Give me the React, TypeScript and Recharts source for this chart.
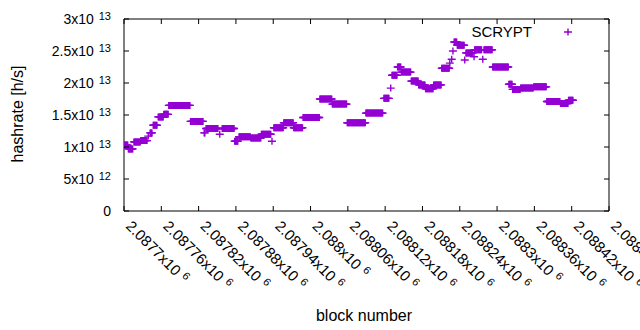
import React from 'react';
import { ScatterChart, Scatter, XAxis, YAxis, ReferenceArea } from 'recharts';

const BASE_BLOCK = 2087700;
const X_MAX = 2088480;

// plateaus of the hashrate estimate: first block, last block (offsets from BASE_BLOCK), value in 1e13 h/s
const runStart = [0, 7, 16, 27, 39, 42, 47, 55, 64, 72, 107, 129, 132, 154, 158, 178, 185, 204, 221, 238, 241, 257, 273, 288, 315, 335, 359, 389, 418, 429, 431, 440, 446, 462, 474, 485, 498, 511, 524, 527, 529, 531, 536, 548, 550, 563, 564, 577, 579, 593, 619, 625, 638, 659, 680, 702, 715];
const runEnd = [6, 14, 26, 37, 39, 45, 53, 63, 71, 106, 127, 130, 151, 154, 177, 183, 203, 220, 236, 238, 256, 272, 287, 314, 334, 358, 388, 416, 426, 429, 439, 445, 461, 473, 484, 497, 510, 523, 524, 527, 529, 535, 547, 548, 561, 563, 575, 577, 592, 618, 624, 637, 658, 679, 701, 714, 722];
const runRate = [1.03, 0.97, 1.08, 1.10, 1.17, 1.22, 1.34, 1.47, 1.51, 1.65, 1.40, 1.22, 1.29, 1.20, 1.29, 1.09, 1.16, 1.14, 1.20, 1.09, 1.30, 1.38, 1.30, 1.46, 1.75, 1.67, 1.38, 1.53, 1.76, 1.92, 2.12, 2.25, 2.17, 2.03, 1.97, 1.91, 1.97, 2.23, 2.31, 2.37, 2.50, 2.64, 2.59, 2.36, 2.47, 2.41, 2.52, 2.37, 2.52, 2.25, 1.98, 1.90, 1.92, 1.94, 1.71, 1.68, 1.73];

const xTicks = [2087700, 2087760, 2087820, 2087880, 2087940, 2088000, 2088060, 2088120, 2088180, 2088240, 2088300, 2088360, 2088420, 2088480];
const xTickMant = ['2.0877', '2.08776', '2.08782', '2.08788', '2.08794', '2.088', '2.08806', '2.08812', '2.08818', '2.08824', '2.0883', '2.08836', '2.08842', '2.08848'];
const yTicks = [0, 5e12, 1e13, 1.5e13, 2e13, 2.5e13, 3e13];
const yTickMant = ['0', '5x10', '1x10', '1.5x10', '2x10', '2.5x10', '3x10'];
const yTickExp = ['', '12', '13', '13', '13', '13', '13'];

const data: { block: number; hash: number }[] = [];
runStart.forEach((s, i) => {
  for (let b = s; b <= runEnd[i]; b++) data.push({ block: BASE_BLOCK + b, hash: runRate[i] * 1e13 });
});

const W = 640;
const H = 330;
const PLOT_LEFT = 124;
const PLOT_TOP = 19;
const PLOT_RIGHT = 609;
const PLOT_BOTTOM = 211;
const FONT = '"Liberation Sans", Arial, sans-serif';
const PURPLE = '#9400d3';

const Plus = ({ cx, cy }: any) => (
  <path d={`M${cx - 4},${cy}H${cx + 4}M${cx},${cy - 3.5}V${cy + 3.5}`} stroke={PURPLE} strokeWidth={1.4} fill="none" />
);

const XTick = ({ x, payload }: any) => {
  const i = xTicks.indexOf(payload.value);
  return (
    <g>
      <line x1={x} x2={x} y1={PLOT_BOTTOM} y2={PLOT_BOTTOM - 5} stroke="#000" />
      <line x1={x} x2={x} y1={PLOT_TOP} y2={PLOT_TOP + 5} stroke="#000" />
      <text transform={`translate(${x + 1},${PLOT_BOTTOM + 16}) rotate(45)`} fontSize={15} fontFamily={FONT} fill="#000">
        {xTickMant[i]}x10<tspan dx={5} dy={-5} fontSize={11}>6</tspan>
      </text>
    </g>
  );
};

const YTick = ({ y, payload }: any) => {
  const i = yTicks.indexOf(payload.value);
  return (
    <g>
      <line x1={PLOT_LEFT} x2={PLOT_LEFT + 5} y1={y} y2={y} stroke="#000" />
      <line x1={PLOT_RIGHT} x2={PLOT_RIGHT - 5} y1={y} y2={y} stroke="#000" />
      <text x={111} y={y + 5} textAnchor="end" fontSize={14} fontFamily={FONT} fill="#000">
        {yTickMant[i]}
        {yTickExp[i] && <tspan dx={5} dy={-4} fontSize={11}>{yTickExp[i]}</tspan>}
      </text>
    </g>
  );
};

export default function App() {
  return (
    <div style={{ position: 'absolute', left: 0, top: 0, width: W, height: H, background: '#fff' }}>
      <ScatterChart width={W} height={H} margin={{ top: PLOT_TOP, right: W - PLOT_RIGHT, bottom: H - PLOT_BOTTOM - 30, left: PLOT_LEFT - 60 }}>
        <XAxis type="number" dataKey="block" domain={[BASE_BLOCK, X_MAX]} ticks={xTicks} interval={0} axisLine={false} tickLine={false} tick={<XTick />} height={30} allowDataOverflow />
        <YAxis type="number" dataKey="hash" domain={[0, 3e13]} ticks={yTicks} interval={0} axisLine={false} tickLine={false} tick={<YTick />} width={60} allowDataOverflow />
        <ReferenceArea x1={BASE_BLOCK} x2={X_MAX} y1={0} y2={3e13} fill="none" stroke="#000" strokeWidth={1} ifOverflow="visible" />
        <Scatter data={data} isAnimationActive={false} shape={<Plus />} />
      </ScatterChart>
      <svg width={W} height={H} style={{ position: 'absolute', left: 0, top: 0, pointerEvents: 'none' }}>
        <text x={532} y={37} textAnchor="end" fontSize={15} fontFamily={FONT} fill="#000">SCRYPT</text>
        <Plus cx={568} cy={32} />
        <text transform="translate(23,114) rotate(-90)" textAnchor="middle" fontSize={16} fontFamily={FONT} fill="#000">hashrate [h/s]</text>
        <text x={364} y={321} textAnchor="middle" fontSize={16} fontFamily={FONT} fill="#000">block number</text>
      </svg>
    </div>
  );
}
